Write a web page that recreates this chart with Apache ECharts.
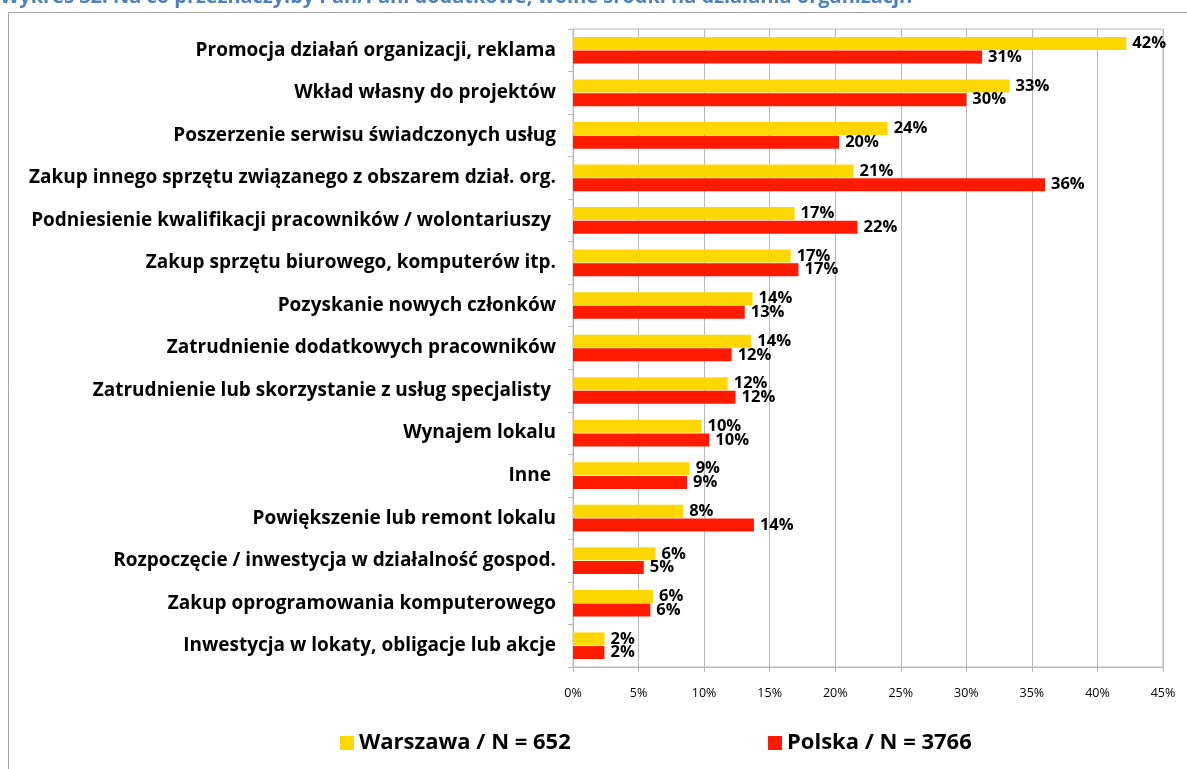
<!DOCTYPE html>
<html>
<head>
<meta charset="utf-8">
<script src="https://cdn.jsdelivr.net/npm/echarts@6/dist/echarts.min.js"></script>
<style>
  html, body { margin: 0; padding: 0; background: #fff; }
  #chart { width: 1187px; height: 769px; }
</style>
</head>
<body>
<div id="chart"></div>
<script>
const categories = [
  'Promocja działań organizacji, reklama',
  'Wkład własny do projektów',
  'Poszerzenie serwisu świadczonych usług',
  'Zakup innego sprzętu związanego z obszarem dział. org.',
  'Podniesienie kwalifikacji pracowników / wolontariuszy ',
  'Zakup sprzętu biurowego, komputerów itp.',
  'Pozyskanie nowych członków',
  'Zatrudnienie dodatkowych pracowników',
  'Zatrudnienie lub skorzystanie z usług specjalisty ',
  'Wynajem lokalu',
  'Inne ',
  'Powiększenie lub remont lokalu',
  'Rozpoczęcie / inwestycja w działalność gospod.',
  'Zakup oprogramowania komputerowego',
  'Inwestycja w lokaty, obligacje lub akcje'
]
const warszawa = [42.2, 33.3, 24.0, 21.4, 16.9, 16.6, 13.7, 13.6, 11.8, 9.8, 8.9, 8.4, 6.3, 6.1, 2.4]
const polska = [31.2, 30.0, 20.3, 36.0, 21.7, 17.2, 13.1, 12.1, 12.4, 10.4, 8.7, 13.8, 5.4, 5.9, 2.4]
const xTicks = { min: 0, max: 45, interval: 5 }

const font = '"Open Sans", Lato, sans-serif'
const gray = '#b8b8b8'

const chart = echarts.init(document.getElementById('chart'))

const valueLabel = {
  show: true,
  position: 'right',
  distance: 6,
  color: '#000',
  fontWeight: 'bold',
  fontSize: 16.5,
  fontFamily: font,
  formatter: p => Math.round(p.value) + '%'
}

chart.setOption({
  animation: false,
  graphic: [
    {
      type: 'rect',
      shape: { x: 8.5, y: 12.5, width: 1300, height: 900 },
      style: { fill: 'none', stroke: '#a6a6a6', lineWidth: 1 }
    },
    {
      type: 'text',
      left: 0,
      top: -13,
      style: {
        text: 'Wykres 32. Na co przeznaczyłby Pan/Pani dodatkowe, wolne środki na działania organizacji?',
        fill: '#4f81bd',
        font: 'bold 20px ' + font
      }
    }
  ],
  grid: {
    left: 573, right: 24, top: 29, bottom: 102,
    show: true, borderColor: gray, borderWidth: 1
  },
  legend: [
    {
      data: ['Warszawa / N = 652'],
      left: 335, top: 727,
      itemWidth: 14, itemHeight: 14, itemGap: 8,
      icon: 'rect',
      textStyle: { fontSize: 22, fontWeight: 'bold', fontFamily: font, color: '#000' }
    },
    {
      data: ['Polska / N = 3766'],
      left: 763, top: 727,
      itemWidth: 14, itemHeight: 14, itemGap: 7,
      icon: 'rect',
      textStyle: { fontSize: 22, fontWeight: 'bold', fontFamily: font, color: '#000' }
    }
  ],
  xAxis: {
    type: 'value',
    min: xTicks.min, max: xTicks.max, interval: xTicks.interval,
    axisLine: { show: true, lineStyle: { color: gray } },
    axisTick: { show: true, length: 5, lineStyle: { color: gray } },
    splitLine: { lineStyle: { color: gray } },
    axisLabel: {
      formatter: '{value}%',
      margin: 20,
      color: '#000',
      fontSize: 12.5,
      fontFamily: font
    }
  },
  yAxis: {
    type: 'category',
    data: categories,
    inverse: true,
    axisLine: { show: true, lineStyle: { color: gray } },
    axisTick: { show: true, length: 5, lineStyle: { color: gray } },
    axisLabel: {
      margin: 17,
      color: '#000',
      fontSize: 19,
      fontWeight: 'bold',
      fontFamily: font
    }
  },
  series: [
    {
      name: 'Warszawa / N = 652',
      type: 'bar',
      data: warszawa,
      barWidth: 13,
      barGap: '5%',
      itemStyle: { color: '#ffd700' },
      label: valueLabel
    },
    {
      name: 'Polska / N = 3766',
      type: 'bar',
      data: polska,
      barWidth: 13,
      barGap: '5%',
      itemStyle: { color: '#ff1a00' },
      label: valueLabel
    }
  ]
})
</script>
</body>
</html>
